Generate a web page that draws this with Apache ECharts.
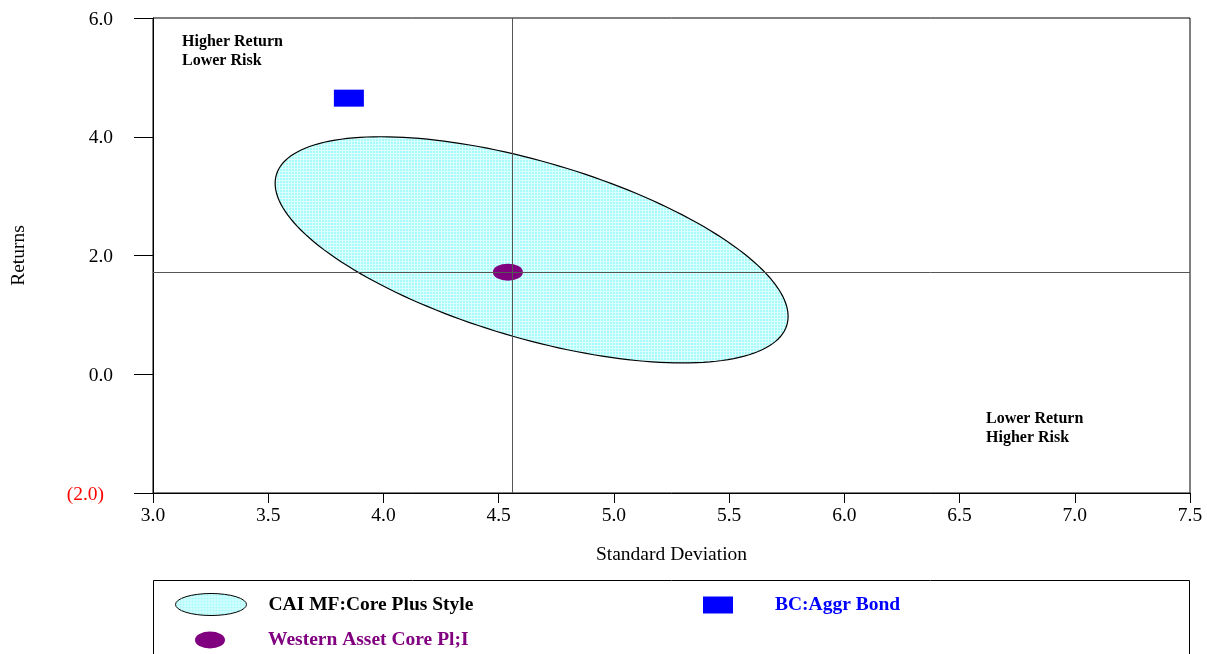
<!DOCTYPE html>
<html>
<head>
<meta charset="utf-8">
<script src="https://cdn.jsdelivr.net/npm/echarts@6/dist/echarts.min.js"></script>
<style>
html,body{margin:0;padding:0;background:#fff;}
#chart{width:1207px;height:654px;}
</style>
</head>
<body>
<div id="chart"></div>
<script>
// ---- data ----
const xTicks = [3.0, 3.5, 4.0, 4.5, 5.0, 5.5, 6.0, 6.5, 7.0, 7.5];
const yTicks = [-2, 0, 2, 4, 6];
const styleName = 'CAI MF:Core Plus Style';
const styleEllipseCenter = [4.643, 2.095];   // [std dev, return]
const styleEllipseRadii = [1.113, 1.905];    // half-range in std dev, half-range in return
const styleEllipsePhaseDeg = 126;            // phase between the two axes
const indexName = 'BC:Aggr Bond';
const indexStdDev = [3.85];
const indexReturn = [4.65];
const managerName = 'Western Asset Core Pl;I';
const managerStdDev = [4.54];
const managerReturn = [1.72];
const crossStdDev = [4.558];
const crossReturn = [1.722];

const FONT = '"Liberation Serif", "Times New Roman", serif';

// cyan grid texture
const pat = document.createElement('canvas');
pat.width = 3; pat.height = 3;
const pc = pat.getContext('2d');
pc.fillStyle = '#a6fbfb'; pc.fillRect(0,0,3,3);
pc.fillStyle = '#dcfefe'; pc.fillRect(0,0,3,1); pc.fillRect(0,0,1,3);
const cyanFill = {image: pat, repeat: 'repeat'};

const chart = echarts.init(document.getElementById('chart'), null, {renderer: 'canvas'});

const bigEllipse = 'path://M0,11 A35.5,11 0 1,1 71,11 A35.5,11 0 1,1 0,11 Z';
const smallEllipse = 'path://M0,8.5 A15,8.5 0 1,1 30,8.5 A15,8.5 0 1,1 0,8.5 Z';

const option = {
  backgroundColor: '#fff',
  animation: false,
  grid: {left: 153, right: 17, top: 18, bottom: 161, containLabel: false, outerBoundsMode: 'none',
         show: true, borderColor: '#000', borderWidth: 1, backgroundColor: 'transparent'},
  xAxis: {
    type: 'value', min: xTicks[0], max: xTicks[xTicks.length-1], interval: 0.5,
    name: 'Standard Deviation', nameLocation: 'middle', nameGap: 52,
    nameTextStyle: {fontFamily: FONT, fontSize: 19.5, color: '#000'},
    axisLine: {show: true, onZero: false, lineStyle: {color: '#000', width: 1}},
    axisTick: {show: true, length: 10, inside: false, lineStyle: {color: '#000'}},
    axisLabel: {fontFamily: FONT, fontSize: 19.5, color: '#000', margin: 13, formatter: v => v.toFixed(1)},
    splitLine: {show: false}
  },
  yAxis: {
    type: 'value', min: yTicks[0], max: yTicks[yTicks.length-1], interval: 2,
    name: 'Returns', nameLocation: 'middle', nameGap: 124, nameRotate: 90,
    nameTextStyle: {fontFamily: FONT, fontSize: 19.5, color: '#000'},
    axisLine: {show: true, onZero: false, lineStyle: {color: '#000', width: 1}},
    axisTick: {show: true, length: 19, inside: false, lineStyle: {color: '#000'}},
    axisLabel: {fontFamily: FONT, fontSize: 19.5, margin: 40, color: '#000',
      formatter: v => v < 0 ? '{neg|(' + Math.abs(v).toFixed(1) + ')}' : '{pos|' + v.toFixed(1) + '}',
      rich: {
        pos: {fontFamily: FONT, fontSize: 19.5, color: '#000', padding: [3, 0, 0, 0]},
        neg: {fontFamily: FONT, fontSize: 19.5, color: '#ff0000', padding: [3, 9, 0, 0]}
      }},
    splitLine: {show: false}
  },
  legend: [
    {data: [{name: styleName, icon: bigEllipse, itemStyle: {color: cyanFill, borderColor: '#000', borderWidth: 1}}],
     left: 175, top: 593, itemWidth: 71, itemHeight: 22, padding: 0,
     textStyle: {fontFamily: FONT, fontSize: 19.5, fontWeight: 'bold', color: '#000', padding: [0,0,0,17]}},
    {data: [{name: indexName, icon: 'rect', itemStyle: {opacity: 1}}],
     left: 703, top: 595, itemWidth: 30, itemHeight: 17, padding: 0,
     textStyle: {fontFamily: FONT, fontSize: 19.5, fontWeight: 'bold', color: '#0000ff', padding: [0,0,0,37]}},
    {data: [{name: managerName, icon: smallEllipse, itemStyle: {opacity: 1}}],
     left: 195, top: 630, itemWidth: 30, itemHeight: 17, padding: 0,
     textStyle: {fontFamily: FONT, fontSize: 19.5, fontWeight: 'bold', color: '#800080', padding: [0,0,0,38]}}
  ],
  graphic: [
    {type: 'rect', shape: {x: 153.5, y: 580.5, width: 1036, height: 100}, style: {fill: 'none', stroke: '#000', lineWidth: 1}, silent: true},
    {type: 'text', left: 182, top: 32, style: {text: 'Higher Return\nLower Risk', font: 'bold 16px ' + FONT, fill: '#000', lineHeight: 19}},
    {type: 'text', left: 986, top: 409, style: {text: 'Lower Return\nHigher Risk', font: 'bold 16px ' + FONT, fill: '#000', lineHeight: 19}}
  ],
  series: [
    {
      name: styleName, type: 'custom', z: 1,
      data: [[styleEllipseCenter[0], styleEllipseCenter[1]]],
      renderItem: function (params, api) {
        const ph = styleEllipsePhaseDeg * Math.PI / 180;
        const pts = [];
        for (let i = 0; i < 180; i++) {
          const t = i / 180 * Math.PI * 2;
          const x = styleEllipseCenter[0] + styleEllipseRadii[0] * Math.cos(t);
          const y = styleEllipseCenter[1] + styleEllipseRadii[1] * Math.cos(t + ph);
          pts.push(api.coord([x, y]));
        }
        return {type: 'polygon', shape: {points: pts}, style: {fill: cyanFill, stroke: '#000', lineWidth: 1.2}};
      },
      itemStyle: {color: '#a6fbfb'}
    },
    {
      name: 'cross', type: 'scatter', z: 2, data: [], symbolSize: 0,
      markLine: {
        silent: true, symbol: ['none', 'none'], label: {show: false},
        lineStyle: {color: '#555', width: 1, type: 'solid'},
        data: [{xAxis: crossStdDev[0]}, {yAxis: crossReturn[0]}]
      }
    },
    {
      name: indexName, type: 'scatter', z: 3, symbol: 'rect', symbolSize: [30, 17],
      itemStyle: {color: '#0000ff', opacity: 1},
      data: indexStdDev.map((v, i) => [v, indexReturn[i]])
    },
    {
      name: managerName, type: 'scatter', z: 4, symbol: smallEllipse, symbolSize: [30, 17],
      itemStyle: {color: '#800080', opacity: 1},
      data: managerStdDev.map((v, i) => [v, managerReturn[i]])
    }
  ]
};
chart.setOption(option);
</script>
</body>
</html>
